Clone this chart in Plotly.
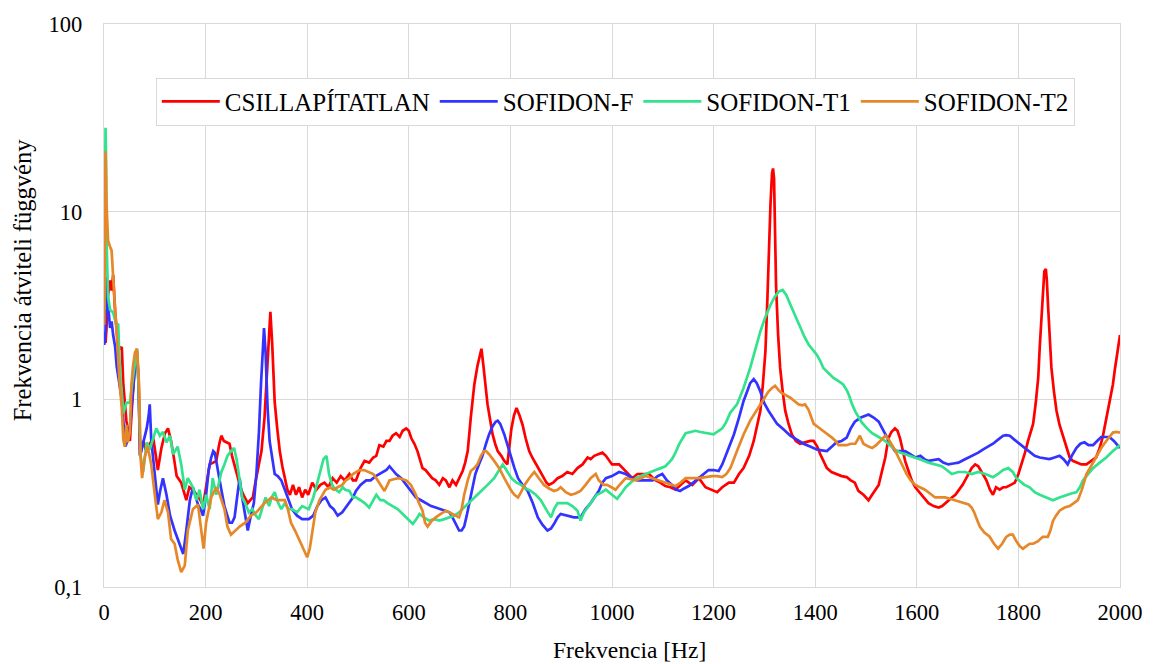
import plotly.graph_objects as go

# Frequency response measurements (frequency in Hz, transfer function magnitude)
freq_csill = [0.5, 3, 5, 8, 12, 15, 18, 22, 26, 30, 35, 38, 44, 51, 55, 58, 62, 65, 68, 71, 77, 84, 90, 97, 102, 106, 113, 120, 126, 132, 138, 143, 152, 158, 162, 168, 175, 182, 190, 195, 202, 208, 215, 221, 227, 231, 236, 241, 247, 252, 258, 263, 270, 277, 283, 288, 293, 298, 304, 310, 316, 320, 324, 327.5, 331, 336, 341, 346, 351, 356, 361, 366, 372, 378, 384, 390, 396, 402, 410, 418, 426, 434, 442, 450, 458, 466, 474, 483, 490, 496, 505, 513, 522, 530, 536, 542, 550, 556, 562, 568, 575, 582, 588, 595, 600, 605, 611, 617, 622, 627, 633, 640, 646, 653, 660, 667, 673, 680, 686, 693, 700, 706, 711, 716, 722, 729, 735, 739, 743, 747, 751, 755, 760, 765, 770, 775, 782, 788, 794, 798, 802, 807, 812, 818, 824, 830, 837, 843, 850, 857, 866, 871, 876, 884, 893, 902, 912, 922, 932, 942, 952, 958, 965, 974, 981, 988, 1000, 1014, 1027, 1040, 1050, 1060, 1073, 1086, 1095, 1105, 1115, 1125, 1135, 1145, 1158, 1171, 1184, 1197, 1207, 1217, 1230, 1240, 1250, 1259, 1270, 1279, 1286, 1292, 1297, 1302, 1306, 1309, 1312, 1315, 1317, 1319, 1321, 1323, 1327, 1331, 1336, 1341, 1347, 1354, 1362, 1370, 1380, 1390, 1397, 1404, 1410, 1416, 1423, 1432, 1442, 1452, 1462, 1470, 1478, 1485, 1495, 1505, 1512, 1519, 1525, 1532, 1538, 1544, 1550, 1557, 1562, 1567, 1572, 1577, 1583, 1590, 1597, 1603, 1613, 1623, 1633, 1643, 1650, 1656, 1663, 1669, 1676, 1682, 1690, 1695, 1702, 1708, 1715, 1721, 1730, 1737, 1744, 1750, 1756, 1763, 1770, 1776, 1785, 1793, 1800, 1806, 1813, 1819, 1825, 1829, 1834, 1839, 1842, 1845, 1848, 1851, 1854, 1856, 1858, 1861, 1865, 1870, 1875, 1881, 1888, 1895, 1901, 1907, 1914, 1924, 1934, 1943, 1953, 1960, 1966, 1971, 1976, 1981, 1986, 1990, 1994, 1998, 2000]
val_csill = [2.1, 2.0, 2.4, 3.6, 4.3, 3.8, 4.6, 2.9, 2.2, 1.85, 1.9, 1.2, 0.77, 0.6, 0.9, 1.25, 1.7, 1.8, 1.3, 0.5, 0.6, 0.52, 0.58, 0.62, 0.5, 0.42, 0.55, 0.66, 0.7, 0.6, 0.48, 0.39, 0.36, 0.32, 0.29, 0.34, 0.33, 0.31, 0.29, 0.27, 0.36, 0.45, 0.46, 0.47, 0.58, 0.64, 0.6, 0.59, 0.58, 0.5, 0.43, 0.38, 0.33, 0.30, 0.28, 0.29, 0.30, 0.36, 0.44, 0.53, 0.8, 1.2, 2.0, 2.93, 2.0, 0.97, 0.7, 0.53, 0.44, 0.38, 0.33, 0.31, 0.35, 0.31, 0.34, 0.30, 0.33, 0.31, 0.36, 0.33, 0.35, 0.36, 0.34, 0.38, 0.36, 0.39, 0.37, 0.40, 0.37, 0.37, 0.43, 0.47, 0.46, 0.49, 0.5, 0.57, 0.56, 0.6, 0.6, 0.64, 0.66, 0.63, 0.68, 0.70, 0.68, 0.62, 0.58, 0.53, 0.47, 0.43, 0.42, 0.40, 0.38, 0.37, 0.35, 0.38, 0.37, 0.34, 0.37, 0.35, 0.38, 0.415, 0.46, 0.53, 0.8, 1.2, 1.5, 1.7, 1.86, 1.5, 1.2, 0.94, 0.78, 0.65, 0.58, 0.53, 0.5, 0.47, 0.45, 0.55, 0.70, 0.82, 0.9, 0.82, 0.73, 0.62, 0.53, 0.49, 0.45, 0.42, 0.38, 0.36, 0.35, 0.36, 0.38, 0.39, 0.41, 0.40, 0.43, 0.45, 0.49, 0.48, 0.50, 0.51, 0.52, 0.50, 0.45, 0.45, 0.415, 0.38, 0.40, 0.40, 0.40, 0.37, 0.36, 0.345, 0.34, 0.33, 0.35, 0.37, 0.35, 0.38, 0.34, 0.33, 0.32, 0.34, 0.36, 0.36, 0.40, 0.43, 0.5, 0.60, 0.72, 0.87, 1.2, 1.8, 3.5, 6.5, 11, 16, 17, 15, 8, 4.0, 2.2, 1.47, 1.1, 0.87, 0.75, 0.65, 0.6, 0.58, 0.59, 0.6, 0.6, 0.56, 0.51, 0.47, 0.43, 0.41, 0.40, 0.39, 0.385, 0.37, 0.36, 0.325, 0.31, 0.29, 0.31, 0.33, 0.35, 0.42, 0.49, 0.62, 0.67, 0.70, 0.68, 0.62, 0.54, 0.47, 0.42, 0.37, 0.34, 0.325, 0.30, 0.28, 0.27, 0.265, 0.27, 0.28, 0.29, 0.30, 0.31, 0.325, 0.35, 0.37, 0.40, 0.43, 0.45, 0.44, 0.40, 0.37, 0.33, 0.31, 0.34, 0.33, 0.34, 0.34, 0.35, 0.36, 0.40, 0.45, 0.52, 0.60, 0.68, 0.74, 0.95, 1.3, 1.9, 2.7, 3.8, 4.8, 4.95, 4.3, 3.3, 2.2, 1.47, 1.1, 0.87, 0.73, 0.63, 0.55, 0.49, 0.47, 0.46, 0.45, 0.45, 0.47, 0.49, 0.55, 0.63, 0.74, 0.87, 1.02, 1.2, 1.45, 1.75, 2.1, 2.2]

freq_f = [0.5, 3, 5, 8, 12, 15, 18, 22, 25, 31, 35, 38, 42, 46, 50, 54, 58, 62, 65, 68, 71, 77, 84, 88, 90, 93, 100, 106, 110, 116, 123, 130, 139, 145, 149, 156, 162, 169, 175, 180, 185, 190, 195, 201, 206, 211, 215, 218, 224, 231, 237, 241, 247, 252, 257, 262, 267, 272, 278, 283, 289, 295, 300, 305, 309, 312, 315, 318, 322, 326, 331, 336, 342, 349, 356, 363, 370, 380, 390, 403, 412, 420, 428, 436, 445, 452, 460, 469, 478, 483, 490, 496, 505, 516, 525, 535, 542, 550, 556, 562, 568, 575, 585, 595, 605, 614, 624, 634, 644, 653, 663, 673, 680, 686, 692, 699, 704, 709, 714, 719, 725, 731, 738, 745, 752, 758, 765, 771, 775, 780, 788, 795, 802, 808, 815, 824, 834, 844, 854, 863, 873, 880, 886, 893, 899, 912, 925, 938, 948, 958, 966, 974, 981, 988, 1000, 1014, 1027, 1040, 1050, 1060, 1070, 1080, 1090, 1099, 1108, 1118, 1126, 1134, 1142, 1151, 1160, 1171, 1180, 1190, 1200, 1210, 1217, 1224, 1230, 1240, 1250, 1259, 1266, 1272, 1279, 1285, 1292, 1300, 1308, 1316, 1325, 1338, 1351, 1364, 1377, 1390, 1403, 1413, 1423, 1433, 1442, 1452, 1462, 1470, 1478, 1490, 1505, 1515, 1525, 1532, 1538, 1548, 1557, 1567, 1577, 1587, 1597, 1607, 1615, 1623, 1633, 1643, 1652, 1662, 1672, 1682, 1692, 1702, 1711, 1721, 1730, 1740, 1750, 1760, 1770, 1776, 1783, 1792, 1802, 1812, 1822, 1832, 1842, 1851, 1861, 1871, 1881, 1889, 1897, 1905, 1914, 1922, 1930, 1938, 1947, 1955, 1963, 1971, 1979, 1988, 1994, 2000]
val_f = [1.95, 2.3, 4.5, 3.2, 2.4, 2.6, 2.2, 1.9, 1.5, 1.2, 1.0, 0.77, 0.56, 0.6, 0.64, 0.9, 1.2, 1.6, 1.75, 1.2, 0.5, 0.59, 0.7, 0.82, 0.94, 0.61, 0.39, 0.275, 0.32, 0.38, 0.31, 0.24, 0.2, 0.18, 0.17, 0.15, 0.2, 0.29, 0.34, 0.31, 0.275, 0.26, 0.24, 0.31, 0.42, 0.49, 0.53, 0.52, 0.43, 0.33, 0.27, 0.25, 0.22, 0.22, 0.235, 0.3, 0.38, 0.3, 0.24, 0.2, 0.24, 0.28, 0.4, 0.67, 1.2, 1.9, 2.4, 1.8, 0.9, 0.6, 0.48, 0.4, 0.39, 0.37, 0.33, 0.29, 0.26, 0.24, 0.23, 0.23, 0.24, 0.27, 0.29, 0.30, 0.27, 0.26, 0.24, 0.25, 0.27, 0.28, 0.30, 0.325, 0.35, 0.37, 0.37, 0.39, 0.40, 0.41, 0.42, 0.44, 0.42, 0.40, 0.38, 0.35, 0.32, 0.30, 0.29, 0.28, 0.27, 0.265, 0.26, 0.255, 0.25, 0.235, 0.22, 0.2, 0.2, 0.21, 0.24, 0.28, 0.33, 0.4, 0.45, 0.5, 0.58, 0.65, 0.72, 0.76, 0.77, 0.74, 0.65, 0.56, 0.49, 0.43, 0.38, 0.35, 0.325, 0.28, 0.235, 0.215, 0.2, 0.205, 0.217, 0.235, 0.245, 0.24, 0.235, 0.235, 0.26, 0.28, 0.30, 0.325, 0.36, 0.38, 0.39, 0.41, 0.40, 0.38, 0.37, 0.37, 0.37, 0.37, 0.39, 0.40, 0.37, 0.35, 0.33, 0.325, 0.335, 0.345, 0.36, 0.38, 0.40, 0.42, 0.42, 0.415, 0.45, 0.5, 0.55, 0.65, 0.8, 0.98, 1.1, 1.22, 1.28, 1.22, 1.1, 0.95, 0.87, 0.8, 0.74, 0.69, 0.64, 0.61, 0.58, 0.56, 0.54, 0.535, 0.53, 0.56, 0.59, 0.6, 0.625, 0.7, 0.76, 0.8, 0.83, 0.8, 0.76, 0.7, 0.65, 0.58, 0.53, 0.53, 0.53, 0.51, 0.49, 0.5, 0.48, 0.47, 0.475, 0.48, 0.46, 0.45, 0.455, 0.46, 0.475, 0.49, 0.50, 0.52, 0.54, 0.56, 0.58, 0.61, 0.64, 0.645, 0.64, 0.61, 0.58, 0.55, 0.52, 0.50, 0.49, 0.485, 0.48, 0.49, 0.50, 0.48, 0.45, 0.5, 0.55, 0.58, 0.59, 0.57, 0.57, 0.6, 0.63, 0.63, 0.63, 0.6, 0.57, 0.55]

freq_t1 = [0.5, 2, 3, 4, 5, 8, 12, 18, 24, 28, 31, 35, 38, 44, 51, 57, 62, 65, 68, 72, 77, 84, 90, 97, 103, 110, 116, 123, 130, 136, 145, 152, 159, 165, 175, 182, 188, 195, 201, 208, 214, 221, 231, 237, 243, 250, 256, 261, 267, 272, 278, 285, 292, 299, 305, 312, 318, 325, 330, 336, 343, 349, 356, 363, 370, 380, 390, 403, 412, 420, 426, 432, 438, 443, 449, 456, 463, 470, 475, 483, 490, 496, 505, 513, 522, 530, 536, 544, 550, 558, 568, 578, 588, 598, 608, 615, 621, 630, 640, 650, 660, 670, 680, 690, 699, 709, 719, 729, 740, 755, 768, 778, 785, 792, 802, 812, 821, 830, 840, 850, 860, 870, 880, 886, 893, 902, 912, 922, 932, 938, 945, 958, 970, 980, 988, 1000, 1010, 1020, 1027, 1037, 1047, 1057, 1066, 1076, 1086, 1096, 1105, 1112, 1118, 1125, 1132, 1139, 1145, 1155, 1164, 1174, 1184, 1192, 1200, 1210, 1217, 1224, 1233, 1246, 1259, 1272, 1282, 1292, 1302, 1312, 1320, 1328, 1336, 1343, 1351, 1360, 1370, 1379, 1387, 1395, 1403, 1410, 1416, 1426, 1436, 1446, 1455, 1462, 1466, 1472, 1479, 1486, 1492, 1502, 1512, 1525, 1538, 1547, 1557, 1567, 1577, 1587, 1597, 1610, 1623, 1636, 1649, 1659, 1669, 1682, 1695, 1708, 1721, 1735, 1750, 1760, 1770, 1780, 1789, 1796, 1802, 1812, 1822, 1832, 1842, 1855, 1868, 1881, 1894, 1904, 1914, 1921, 1927, 1937, 1947, 1960, 1973, 1986, 2000]
val_t1 = [3.0, 12, 28, 20, 7, 3.5, 3.0, 2.9, 2.5, 2.5, 1.5, 1.0, 0.84, 0.96, 0.96, 1.3, 1.7, 1.86, 1.2, 0.5, 0.41, 0.59, 0.54, 0.62, 0.7, 0.64, 0.67, 0.59, 0.64, 0.51, 0.56, 0.45, 0.33, 0.38, 0.34, 0.29, 0.33, 0.26, 0.31, 0.26, 0.38, 0.31, 0.41, 0.45, 0.5, 0.53, 0.55, 0.48, 0.38, 0.3, 0.28, 0.25, 0.26, 0.24, 0.23, 0.27, 0.3, 0.27, 0.3, 0.32, 0.28, 0.26, 0.28, 0.26, 0.26, 0.25, 0.27, 0.26, 0.3, 0.36, 0.42, 0.48, 0.5, 0.4, 0.35, 0.33, 0.32, 0.34, 0.33, 0.325, 0.3, 0.3, 0.29, 0.28, 0.265, 0.29, 0.31, 0.29, 0.29, 0.28, 0.27, 0.26, 0.245, 0.23, 0.217, 0.23, 0.245, 0.235, 0.226, 0.23, 0.226, 0.23, 0.235, 0.24, 0.25, 0.265, 0.28, 0.30, 0.32, 0.35, 0.38, 0.42, 0.45, 0.42, 0.38, 0.36, 0.35, 0.335, 0.325, 0.31, 0.29, 0.26, 0.235, 0.26, 0.28, 0.28, 0.28, 0.27, 0.255, 0.226, 0.25, 0.28, 0.31, 0.32, 0.33, 0.31, 0.295, 0.32, 0.34, 0.36, 0.38, 0.39, 0.40, 0.41, 0.42, 0.43, 0.44, 0.46, 0.48, 0.52, 0.575, 0.62, 0.66, 0.67, 0.68, 0.67, 0.66, 0.655, 0.65, 0.68, 0.70, 0.75, 0.85, 0.94, 1.15, 1.47, 1.85, 2.3, 2.75, 3.19, 3.5, 3.75, 3.83, 3.6, 3.2, 2.8, 2.4, 2.15, 1.96, 1.83, 1.73, 1.6, 1.47, 1.38, 1.3, 1.25, 1.2, 1.12, 1.06, 0.95, 0.86, 0.8, 0.75, 0.7, 0.66, 0.63, 0.6, 0.57, 0.54, 0.52, 0.51, 0.50, 0.49, 0.475, 0.46, 0.45, 0.44, 0.42, 0.40, 0.41, 0.41, 0.40, 0.41, 0.40, 0.385, 0.40, 0.42, 0.43, 0.41, 0.38, 0.37, 0.35, 0.34, 0.32, 0.31, 0.30, 0.29, 0.30, 0.31, 0.315, 0.32, 0.34, 0.37, 0.40, 0.43, 0.46, 0.49, 0.53, 0.57]

freq_t2 = [0.5, 2, 3, 4, 5, 8, 12, 15, 18, 22, 25, 28, 31, 35, 38, 41, 44, 47, 51, 54, 57, 61, 65, 69, 72, 75, 80, 86, 93, 100, 106, 113, 119, 126, 132, 139, 145, 152, 159, 165, 175, 185, 191, 196, 201, 211, 221, 228, 237, 243, 250, 258, 267, 278, 289, 300, 310, 316, 323, 330, 340, 350, 356, 362, 368, 376, 384, 392, 400, 405, 410, 416, 424, 430, 436, 445, 452, 460, 469, 476, 483, 490, 496, 503, 512, 522, 530, 536, 544, 552, 558, 562, 570, 580, 588, 595, 604, 614, 620, 627, 632, 637, 645, 653, 663, 673, 686, 699, 704, 709, 716, 722, 729, 735, 742, 748, 752, 758, 768, 778, 788, 795, 802, 808, 815, 821, 828, 837, 847, 856, 866, 876, 886, 893, 899, 909, 919, 928, 938, 948, 958, 968, 974, 984, 990, 999, 1007, 1017, 1027, 1037, 1047, 1057, 1066, 1079, 1092, 1105, 1118, 1125, 1135, 1145, 1160, 1171, 1184, 1197, 1207, 1217, 1225, 1233, 1246, 1259, 1272, 1282, 1292, 1300, 1308, 1315, 1321, 1328, 1334, 1343, 1351, 1359, 1367, 1374, 1380, 1387, 1397, 1406, 1416, 1425, 1433, 1440, 1446, 1455, 1462, 1470, 1479, 1488, 1495, 1505, 1512, 1520, 1525, 1532, 1538, 1545, 1551, 1558, 1564, 1572, 1580, 1588, 1597, 1606, 1616, 1626, 1636, 1646, 1656, 1665, 1675, 1685, 1695, 1702, 1708, 1713, 1718, 1724, 1733, 1743, 1752, 1760, 1768, 1776, 1783, 1789, 1796, 1803, 1809, 1815, 1822, 1829, 1838, 1848, 1858, 1863, 1868, 1874, 1881, 1891, 1901, 1909, 1917, 1925, 1934, 1943, 1953, 1963, 1973, 1980, 1986, 1993, 2000]
val_t2 = [2.5, 8, 21, 16, 11, 7, 6.5, 6.2, 4.5, 2.9, 2.0, 1.6, 1.2, 0.9, 0.61, 0.56, 0.73, 0.59, 0.67, 1.2, 1.5, 1.78, 1.86, 1.2, 0.49, 0.38, 0.49, 0.56, 0.45, 0.31, 0.23, 0.25, 0.29, 0.25, 0.18, 0.17, 0.14, 0.12, 0.13, 0.2, 0.26, 0.275, 0.2, 0.16, 0.22, 0.30, 0.34, 0.31, 0.26, 0.21, 0.19, 0.2, 0.21, 0.22, 0.24, 0.25, 0.27, 0.28, 0.29, 0.3, 0.29, 0.29, 0.29, 0.26, 0.22, 0.2, 0.18, 0.16, 0.144, 0.16, 0.2, 0.25, 0.29, 0.31, 0.33, 0.34, 0.33, 0.34, 0.35, 0.37, 0.38, 0.4, 0.41, 0.42, 0.42, 0.41, 0.40, 0.38, 0.35, 0.325, 0.35, 0.37, 0.375, 0.38, 0.375, 0.37, 0.35, 0.31, 0.28, 0.255, 0.22, 0.21, 0.225, 0.235, 0.245, 0.255, 0.245, 0.235, 0.26, 0.31, 0.37, 0.415, 0.43, 0.45, 0.5, 0.53, 0.53, 0.51, 0.47, 0.43, 0.38, 0.35, 0.325, 0.31, 0.30, 0.32, 0.35, 0.38, 0.41, 0.38, 0.35, 0.335, 0.325, 0.33, 0.34, 0.32, 0.31, 0.315, 0.325, 0.35, 0.38, 0.40, 0.37, 0.35, 0.35, 0.34, 0.33, 0.355, 0.38, 0.375, 0.37, 0.38, 0.39, 0.38, 0.37, 0.36, 0.35, 0.345, 0.36, 0.38, 0.38, 0.38, 0.385, 0.39, 0.39, 0.385, 0.40, 0.43, 0.53, 0.65, 0.77, 0.85, 0.94, 1.02, 1.1, 1.15, 1.18, 1.12, 1.08, 1.05, 1.02, 0.98, 0.94, 0.93, 0.94, 0.88, 0.74, 0.71, 0.68, 0.65, 0.625, 0.60, 0.57, 0.57, 0.57, 0.58, 0.58, 0.64, 0.58, 0.56, 0.55, 0.57, 0.59, 0.62, 0.64, 0.61, 0.575, 0.53, 0.49, 0.44, 0.40, 0.37, 0.35, 0.34, 0.33, 0.315, 0.30, 0.30, 0.30, 0.295, 0.29, 0.285, 0.28, 0.275, 0.265, 0.25, 0.23, 0.21, 0.195, 0.186, 0.17, 0.16, 0.17, 0.185, 0.19, 0.19, 0.175, 0.165, 0.16, 0.165, 0.17, 0.17, 0.175, 0.185, 0.185, 0.2, 0.225, 0.24, 0.255, 0.265, 0.27, 0.28, 0.29, 0.33, 0.40, 0.44, 0.49, 0.55, 0.60, 0.63, 0.665, 0.67, 0.665]

series_names = ["CSILLAPÍTATLAN", "SOFIDON-F", "SOFIDON-T1", "SOFIDON-T2"]
series_colors = ["#FF0000", "#3333FF", "#33E28C", "#E6882A"]
series_freq = [freq_csill, freq_f, freq_t1, freq_t2]
series_vals = [val_csill, val_f, val_t1, val_t2]

x_ticks = [0, 200, 400, 600, 800, 1000, 1200, 1400, 1600, 1800, 2000]
y_ticks = [0.1, 1, 10, 100]
y_ticktext = ["0,1", "1", "10", "100"]

FONT = "Liberation Serif, Times New Roman, serif"
GRID = "#D9D9D9"

fig = go.Figure()
for name, color, fx, fy in zip(series_names, series_colors, series_freq, series_vals):
    fig.add_trace(go.Scatter(
        x=fx, y=fy, mode="lines", name=name,
        line=dict(color=color, width=2.7),
    ))

fig.update_layout(
    width=1155, height=664,
    margin=dict(l=104, r=33, t=22, b=77),
    paper_bgcolor="white", plot_bgcolor="white",
    font=dict(family=FONT, size=22.5, color="black"),
    showlegend=True,
    legend=dict(
        orientation="h", x=0.051, y=0.862, xanchor="left", yanchor="middle",
        bordercolor=GRID, borderwidth=1, bgcolor="white",
        font=dict(family=FONT, size=25, color="black"),
        itemwidth=58,
    ),
    xaxis=dict(
        range=[0, 2000], tickvals=x_ticks, showgrid=True, gridcolor=GRID, gridwidth=1.3,
        showline=True, linecolor=GRID, linewidth=1.3, mirror=True, zeroline=False,
        ticks="", ticklabelstandoff=5,
    ),
    yaxis=dict(
        type="log", range=[-1, 2], tickvals=y_ticks, ticktext=y_ticktext,
        showgrid=True, gridcolor=GRID, gridwidth=1.3,
        showline=True, linecolor=GRID, linewidth=1.3, mirror=True, zeroline=False,
        ticks="", ticklabelstandoff=16,
    ),
    annotations=[
        dict(text="Frekvencia átviteli függvény", xref="paper", yref="paper",
             x=-0.0806, y=0.545, textangle=-90, showarrow=False,
             xanchor="center", yanchor="middle", font=dict(family=FONT, size=24.5)),
        dict(text="Frekvencia [Hz]", xref="paper", yref="paper",
             x=0.517, y=-0.1115, showarrow=False,
             xanchor="center", yanchor="middle", font=dict(family=FONT, size=23.5)),
    ],
)

fig.write_html("out.html")
